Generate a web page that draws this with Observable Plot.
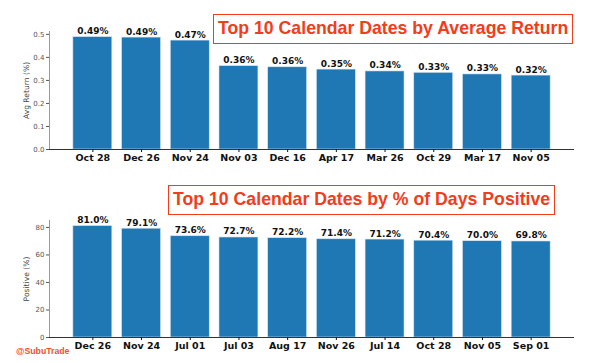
<!DOCTYPE html>
<html>
<head>
<meta charset="utf-8">
<script src="https://cdn.jsdelivr.net/npm/d3@7"></script>
<script src="https://cdn.jsdelivr.net/npm/@observablehq/plot@0.6"></script>
<style>
  body { margin: 0; background: #fff; }
  #wrap { position: relative; width: 591px; height: 363px; overflow: hidden; }
  #wrap svg { display: block; }
  .title {
    position: absolute; box-sizing: border-box; height: 30px;
    border: 1.8px solid #f23c1a; color: #f23c1a; background: #fff;
    font-family: "Liberation Sans", Arial, sans-serif; font-weight: bold;
    font-size: 17.7px; line-height: 26.5px; padding: 0 4px; white-space: nowrap;
  }
  #mark {
    position: absolute; left: 16px; top: 346px; color: #f0502e;
    font-family: "Liberation Sans", Arial, sans-serif; font-weight: bold; font-size: 8.7px;
  }
</style>
</head>
<body>
<div id="wrap"></div>
<script>
const returnDates = ["Oct 28","Dec 26","Nov 24","Nov 03","Dec 16","Apr 17","Mar 26","Oct 29","Mar 17","Nov 05"];
const returnValues = [0.488,0.486,0.473,0.362,0.357,0.347,0.339,0.333,0.326,0.321];
const positiveDates = ["Dec 26","Nov 24","Jul 01","Jul 03","Aug 17","Nov 26","Jul 14","Oct 28","Nov 05","Sep 01"];
const positiveValues = [81.0,79.1,73.6,72.7,72.2,71.4,71.2,70.4,70.0,69.8];
const returnTicks = [0,0.1,0.2,0.3,0.4,0.5];
const positiveTicks = [0,20,40,60,80];
const titles = ["Top 10 Calendar Dates by Average Return", "Top 10 Calendar Dates by % of Days Positive"];

const blue = "#1f77b4";

function makeChart({dates, values, ticks, tickFormat, label, fmt, height, marginTop, marginBottom}) {
  const data = dates.map((d, i) => ({date: d, value: values[i]}));
  const ymax = d3.max(values) * 1.05;
  return Plot.plot({
    width: 591, height, marginLeft: 49, marginRight: 17, marginTop, marginBottom,
    style: {fontFamily: "DejaVu Sans", background: "#fff"},
    x: {domain: dates, paddingInner: 0.2, paddingOuter: 0.49, round: false},
    y: {domain: [0, ymax]},
    marks: [
      Plot.barY(data, {x: "date", y: "value", fill: blue, stroke: "#d6e6f3", strokeWidth: 0.6}),
      Plot.text(data, {x: "date", y: "value", text: d => fmt(d.value), dy: -3, lineAnchor: "bottom",
        fontWeight: "bold", fontSize: 9, fill: "#111"}),
      Plot.frame({anchor: "left", stroke: "#999", strokeWidth: 1}),
      Plot.ruleY([0], {stroke: "#333", strokeWidth: 1}),
      Plot.axisY({ticks, tickFormat, tickSize: 3, tickPadding: 2, fontSize: 7, color: "#555", label: null}),
      Plot.axisY({ticks: [], label, labelAnchor: "center", labelArrow: "none", labelOffset: 26,
        fontSize: 7.6, color: "#444"}),
      Plot.axisX({tickSize: 3, tickPadding: 2, fontSize: 9.5, fontWeight: "bold", label: null, color: "#111"})
    ]
  });
}

const wrap = document.getElementById("wrap");
wrap.appendChild(makeChart({dates: returnDates, values: returnValues, ticks: returnTicks, tickFormat: ".1f",
  label: "Avg Return (%)", fmt: v => v.toFixed(2) + "%", height: 180, marginTop: 31, marginBottom: 31}));
wrap.appendChild(makeChart({dates: positiveDates, values: positiveValues, ticks: positiveTicks, tickFormat: "d",
  label: "Positive (%)", fmt: v => v.toFixed(1) + "%", height: 183, marginTop: 40, marginBottom: 26}));

const t1 = document.createElement("div");
t1.className = "title"; t1.textContent = titles[0];
t1.style.left = "213px"; t1.style.top = "14px";
wrap.appendChild(t1);
const t2 = document.createElement("div");
t2.className = "title"; t2.textContent = titles[1];
t2.style.left = "168px"; t2.style.top = "185px";
wrap.appendChild(t2);
const m = document.createElement("div");
m.id = "mark"; m.textContent = "@SubuTrade";
wrap.appendChild(m);
</script>
</body>
</html>
